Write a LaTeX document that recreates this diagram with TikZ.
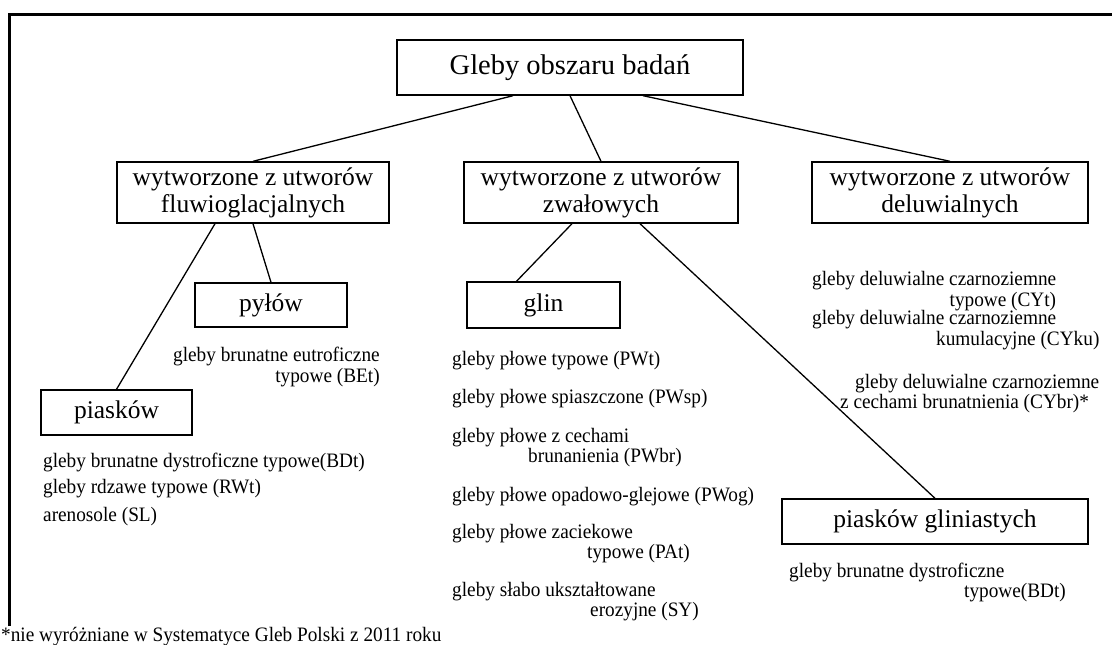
\documentclass[tikz,border=0pt]{standalone}
\usepackage{fontspec}
\setmainfont{Liberation Serif}
\newfontfamily\soilfont[FakeStretch=0.94]{Liberation Serif}
\usetikzlibrary{calc}

\begin{document}
\begin{tikzpicture}[x=1pt,y=-1pt,
  box/.style={draw,line width=1.4pt,inner sep=0pt,align=center,font=\fontsize{25.5}{27}\selectfont},
  soil/.style={anchor=west,inner sep=0pt,align=left,font=\soilfont\fontsize{20.5}{20.5}\selectfont},
  link/.style={line width=1.3pt}]
  \useasboundingbox (0,0) rectangle (1112,645);
  % frame
  \draw[line width=3pt] (9,626) -- (9,14) -- (1112,14);
  % boxes
  \node[box,minimum width=346pt,minimum height=55pt,font=\fontsize{28.5}{30}\selectfont] (root) at (570,67.5) {Gleby obszaru badań};
  \node[box,minimum width=272pt,minimum height=61pt] (fluw) at (253,192.5) {wytworzone z utworów\\fluwioglacjalnych};
  \node[box,minimum width=274pt,minimum height=61pt] (zwal) at (601,192.5) {wytworzone z utworów\\zwałowych};
  \node[box,minimum width=276pt,minimum height=61pt] (deluw) at (950,192.5) {wytworzone z utworów\\deluwialnych};
  \node[box,minimum width=152pt,minimum height=44pt] (pylow) at (271,305) {pyłów};
  \node[box,minimum width=153pt,minimum height=46pt] (glin) at (543.5,305) {glin};
  \node[box,minimum width=151pt,minimum height=45pt] (piaskow) at (116.5,412.5) {piasków};
  \node[box,minimum width=306pt,minimum height=45pt] (piaskgl) at (935,521.5) {piasków gliniastych};
  % connectors
  \draw[link] ([xshift=-57pt]root.south) -- (fluw.north);
  \draw[link] (root.south) -- (zwal.north);
  \draw[link] ([xshift=73pt]root.south) -- (deluw.north);
  \draw[link] (fluw.south) -- (pylow.north);
  \draw[link] ([xshift=-38pt]fluw.south) -- (piaskow.north);
  \draw[link] ([xshift=-29pt]zwal.south) -- ([xshift=-27pt]glin.north);
  \draw[link] ([xshift=39pt]zwal.south) -- (piaskgl.north);
  % soil units
  \node[soil,align=right] (bet) at (173,367) {gleby brunatne eutroficzne\\typowe (BEt)};
  \node[soil] (bdt) at (43,462) {gleby brunatne dystroficzne typowe(BDt)};
  \node[soil] (rwt) at (43,489) {gleby rdzawe typowe (RWt)};
  \node[soil] (sl) at (43,517) {arenosole (SL)};
  \node[soil] (pwt) at (452,361) {gleby płowe typowe (PWt)};
  \node[soil] (pwsp) at (452,399) {gleby płowe spiaszczone (PWsp)};
  \node[soil] (pwbr) at (452,447.5) {gleby płowe z cechami\\\hspace*{76pt}brunanienia (PWbr)};
  \node[soil] (pwog) at (452,497) {gleby płowe opadowo-glejowe (PWog)};
  \node[soil] (pat) at (452,543.5) {gleby płowe zaciekowe\\\hspace*{135pt}typowe (PAt)};
  \node[soil] (sy) at (452,601.5) {gleby słabo ukształtowane\\\hspace*{138pt}erozyjne (SY)};
  \node[soil,align=right] (cyt) at (812,291) {gleby deluwialne czarnoziemne\\typowe (CYt)};
  \node[soil] (cyku) at (812,330) {gleby deluwialne czarnoziemne\\\hspace*{124pt}kumulacyjne (CYku)};
  \node[soil] (cybr) at (840,393.5) {\hspace*{15pt}gleby deluwialne czarnoziemne\\z cechami brunatnienia (CYbr)*};
  \node[soil] (bdt2) at (789,582.5) {gleby brunatne dystroficzne\\\hspace*{175pt}typowe(BDt)};
  % footnote
  \node[soil,anchor=base west] (note) at (1,641) {*nie wyróżniane w Systematyce Gleb Polski z 2011 roku};
\end{tikzpicture}
\end{document}
